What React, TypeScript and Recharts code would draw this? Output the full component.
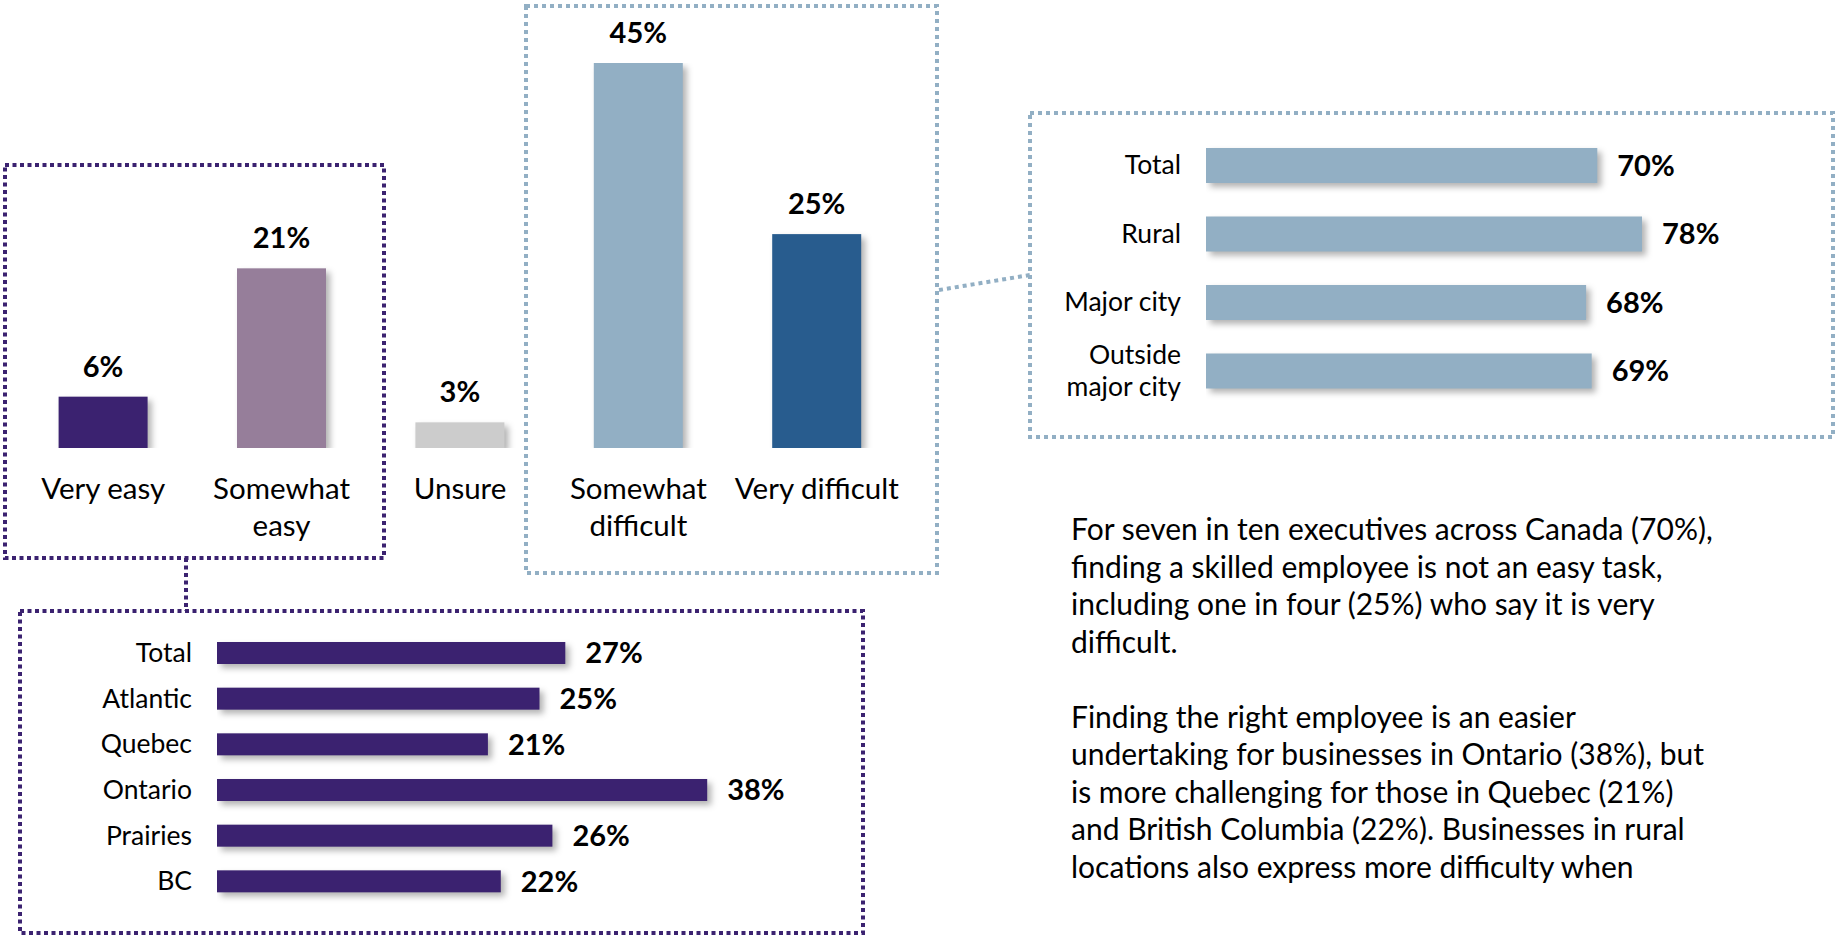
import { BarChart, Bar, XAxis, YAxis, Cell, LabelList } from "recharts";

const easeCategories = ["Very easy", "Somewhat\neasy", "Unsure", "Somewhat\ndifficult", "Very difficult"];
const easeValues = [6, 21, 3, 45, 25];
const easeColors = ["#3b2270", "#967e9a", "#cccccc", "#92afc4", "#285c8e"];

const areaCategories = ["Total", "Rural", "Major city", "Outside\nmajor city"];
const areaValues = [70, 78, 68, 69];

const regionCategories = ["Total", "Atlantic", "Quebec", "Ontario", "Prairies", "BC"];
const regionValues = [27, 25, 21, 38, 26, 22];

const paragraphOne = [
  "For seven in ten executives across Canada (70%),",
  "finding a skilled employee is not an easy task,",
  "including one in four (25%) who say it is very",
  "difficult.",
];
const paragraphTwo = [
  "Finding the right employee is an easier",
  "undertaking for businesses in Ontario (38%), but",
  "is more challenging for those in Quebec (21%)",
  "and British Columbia (22%). Businesses in rural",
  "locations also express more difficulty when",
];

const FONT = "Lato, 'Open Sans', sans-serif";
const PURPLE = "#3b2270";
const STEEL = "#92afc4";

const easeData = easeCategories.map((name, i) => ({ name, value: easeValues[i] }));
const areaData = areaCategories.map((name, i) => ({ name, value: areaValues[i] }));
const regionData = regionCategories.map((name, i) => ({ name, value: regionValues[i] }));

function ShadowBar(props: any) {
  const { x, y, width, height, fill } = props;
  return (
    <rect
      x={x}
      y={y}
      width={width}
      height={height}
      fill={fill}
      style={{ filter: "drop-shadow(4px 4px 3px rgba(0,0,0,0.3))" }}
    />
  );
}

function EaseTick({ x, y, payload }: any) {
  const lines = String(payload.value).split("\n");
  return (
    <text x={x} y={y + 51} textAnchor="middle" fontSize={29.5} fontFamily={FONT} fill="#000">
      {lines.map((l, i) => (
        <tspan key={i} x={x} dy={i === 0 ? 0 : 37}>
          {l}
        </tspan>
      ))}
    </text>
  );
}

function RowTick({ x, y, payload }: any) {
  const lines = String(payload.value).split("\n");
  const lh = 32;
  const first = y + 9 - ((lines.length - 1) * lh) / 2;
  return (
    <text x={x - 25} y={first} textAnchor="end" fontSize={26.5} fontFamily={FONT} fill="#000">
      {lines.map((l, i) => (
        <tspan key={i} x={x - 25} dy={i === 0 ? 0 : lh}>
          {l}
        </tspan>
      ))}
    </text>
  );
}

const valueLabelStyle = { fontSize: 29, fontWeight: 700, fontFamily: FONT, fill: "#000" };
const pct = (v: any) => `${v}%`;

export default function App() {
  return (
    <div style={{ position: "absolute", left: 0, top: 0, width: 1835, height: 937, background: "#fff", fontFamily: FONT }}>
      {/* dotted frames and connectors */}
      <svg width={1835} height={937} style={{ position: "absolute", left: 0, top: 0 }}>
        <rect x={5} y={165} width={379} height={393} fill="none" stroke={PURPLE} strokeWidth={4} strokeDasharray="4 3.5" />
        <line x1={186} y1={558} x2={186} y2={611} stroke={PURPLE} strokeWidth={4} strokeDasharray="4 3.5" />
        <rect x={20} y={611} width={843} height={322} fill="none" stroke={PURPLE} strokeWidth={4} strokeDasharray="4 3.5" />
        <rect x={526} y={6} width={411} height={567} fill="none" stroke={STEEL} strokeWidth={4} strokeDasharray="4 4" />
        <line x1={939} y1={290} x2={1030} y2={275} stroke={STEEL} strokeWidth={4} strokeDasharray="4 4" />
        <rect x={1030} y={113} width={803} height={324} fill="none" stroke={STEEL} strokeWidth={4} strokeDasharray="4 4" />
      </svg>

      {/* main distribution */}
      <div style={{ position: "absolute", left: 0, top: 0 }}>
        <BarChart
          width={920}
          height={560}
          data={easeData}
          margin={{ top: 63, right: 14, bottom: 12, left: 14 }}
          barCategoryGap="25%"
        >
          <XAxis
            dataKey="name"
            height={100}
            axisLine={false}
            tickLine={false}
            tickSize={0}
            tickMargin={0}
            interval={0}
            tick={<EaseTick />}
          />
          <YAxis hide domain={[0, 45]} allowDataOverflow />
          <Bar dataKey="value" isAnimationActive={false} shape={<ShadowBar />}>
            {easeData.map((d, i) => (
              <Cell key={d.name} fill={easeColors[i]} />
            ))}
            <LabelList dataKey="value" position="top" offset={20} formatter={pct} style={valueLabelStyle} />
          </Bar>
        </BarChart>
      </div>

      {/* difficult by area */}
      <div style={{ position: "absolute", left: 1030, top: 113 }}>
        <BarChart
          layout="vertical"
          width={803}
          height={324}
          data={areaData}
          margin={{ top: 18, right: 68, bottom: 32, left: 0 }}
        >
          <XAxis type="number" hide domain={[0, 100]} allowDataOverflow />
          <YAxis
            type="category"
            dataKey="name"
            width={176}
            axisLine={false}
            tickLine={false}
            tickSize={0}
            tickMargin={0}
            interval={0}
            tick={<RowTick />}
          />
          <Bar dataKey="value" fill={STEEL} barSize={35} isAnimationActive={false} shape={<ShadowBar />}>
            <LabelList dataKey="value" position="right" offset={20} formatter={pct} style={valueLabelStyle} />
          </Bar>
        </BarChart>
      </div>

      {/* easy by region */}
      <div style={{ position: "absolute", left: 20, top: 611 }}>
        <BarChart
          layout="vertical"
          width={843}
          height={322}
          data={regionData}
          margin={{ top: 19, right: 1, bottom: 29, left: 0 }}
        >
          <XAxis type="number" hide domain={[0, 50]} allowDataOverflow />
          <YAxis
            type="category"
            dataKey="name"
            width={197}
            axisLine={false}
            tickLine={false}
            tickSize={0}
            tickMargin={0}
            interval={0}
            tick={<RowTick />}
          />
          <Bar dataKey="value" fill={PURPLE} barSize={22} isAnimationActive={false} shape={<ShadowBar />}>
            <LabelList dataKey="value" position="right" offset={20} formatter={pct} style={valueLabelStyle} />
          </Bar>
        </BarChart>
      </div>

      {/* commentary */}
      <div style={{ position: "absolute", left: 1071, top: 510, fontSize: 30, lineHeight: "37.5px", color: "#000", whiteSpace: "nowrap" }}>
        {paragraphOne.map((l) => (
          <div key={l}>{l}</div>
        ))}
        <div>&nbsp;</div>
        {paragraphTwo.map((l) => (
          <div key={l}>{l}</div>
        ))}
      </div>
    </div>
  );
}
